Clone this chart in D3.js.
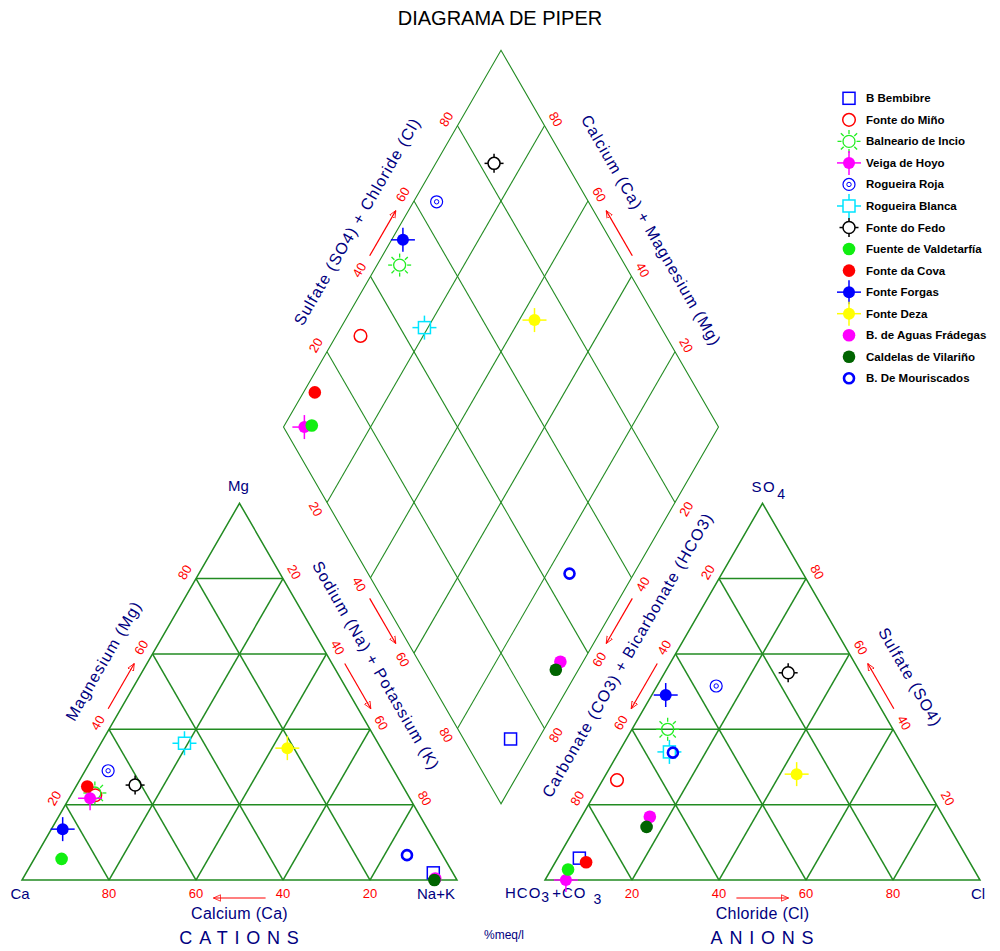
<!DOCTYPE html>
<html>
<head>
<meta charset="utf-8">
<script src="https://cdn.jsdelivr.net/npm/d3@7"></script>
<style>
  body { margin: 0; background: #fff; }
  svg { display: block; }
  text { font-family: "Liberation Sans", Arial, sans-serif; }
</style>
</head>
<body>
<svg id="chart" width="1000" height="951"></svg>
<script>
// ---- Sample names (legend order) ----
const samples = [
  "B Bembibre", "Fonte do Miño", "Balneario de Incio", "Veiga de Hoyo",
  "Rogueira Roja", "Rogueira Blanca", "Fonte do Fedo", "Fuente de Valdetarfía",
  "Fonte da Cova", "Fonte Forgas", "Fonte Deza", "B. de Aguas Frádegas",
  "Caldelas de Vilariño", "B. De Mouriscados"
];

// ---- Cations, % meq/l ----
const calcium   = [4.5, 71.9, 71.7, 73.5, 65.7, 44.5, 61.4, 88.1, 72.6, 83.9, 21.5, 4.8, 5.2, 8.2];
const magnesium = [1.9, 22.5, 23.1, 21.7, 29.0, 36.3, 25.2, 5.6, 24.8, 13.5, 35.0, 0.4, 0.0, 6.6];
const sodiumPotassium = [93.6, 5.6, 5.2, 4.8, 5.3, 19.2, 13.4, 6.3, 2.6, 2.6, 43.5, 94.8, 94.8, 85.2];

// ---- Anions, % meq/l ----
const bicarbonate = [89.2, 70.2, 51.8, 95.2, 34.9, 54.4, 16.6, 93.3, 88.2, 47.7, 28.1, 67.5, 69.6, 53.7];
const sulfate     = [5.8, 26.5, 40.0, 0.0, 51.5, 34.0, 55.0, 2.8, 4.7, 49.1, 28.1, 16.8, 14.1, 33.8];
const chloride    = [5.0, 3.3, 8.2, 4.8, 13.6, 11.6, 28.4, 3.9, 7.1, 3.2, 43.8, 15.7, 16.3, 12.5];

// ---- Symbols ----
const symbolTypes = ["square", "circle", "sun", "crossDisc", "dotCircle", "crossSquare", "tickCircle",
                     "disc", "disc", "crossDisc", "crossDisc", "disc", "disc", "ring"];
const symbolColors = ["#0000ff", "#ff0000", "#22ee22", "#ff00ff", "#0000ff", "#00e5ff", "#000000",
                      "#11ee11", "#ff0000", "#0000ff", "#ffff00", "#ff00ff", "#006400", "#0000ff"];

const tickValues = [20, 40, 60, 80];

// ---- Geometry ----
const svg = d3.select("#chart");
const SIDE = 435, SIN = Math.sqrt(3) / 2;
const baseY = 880, catX0 = 22, anX0 = 545;
const GRID = "#228b22", NAVY = "#000080", RED = "#ff0000";
const pct = d3.scaleLinear().domain([0, 100]).range([0, SIDE]);

const bX = (catX0 + SIDE + anX0) / 2;
const bY = baseY - (anX0 - catX0 - SIDE) * SIN;

// right-corner component, top-corner component
const catPos = (nak, mg) => [catX0 + pct(nak) + pct(mg) / 2, baseY - pct(mg) * SIN];
const anPos = (cl, so4) => [anX0 + pct(cl) + pct(so4) / 2, baseY - pct(so4) * SIN];
// a = Ca+Mg, b = SO4+Cl
const diaPos = (a, b) => [bX + (pct(b) - pct(a)) / 2, bY - (pct(a) + pct(b)) * SIN];

const line = d3.line();
const gridG = svg.append("g");

function triangleGrid(pos) {
  tickValues.forEach(k => {
    [[pos(0, k), pos(100 - k, k)],
     [pos(k, 0), pos(k, 100 - k)],
     [pos(100 - k, 0), pos(0, 100 - k)]].forEach(seg =>
      gridG.append("path").attr("d", line(seg)).attr("fill", "none")
        .attr("stroke", GRID).attr("stroke-width", 1.5));
  });
  gridG.append("path").attr("d", line([pos(0, 0), pos(100, 0), pos(0, 100)]) + "Z")
    .attr("fill", "none").attr("stroke", GRID).attr("stroke-width", 1.5);
}
triangleGrid(catPos);
triangleGrid(anPos);

tickValues.forEach(k => {
  [[diaPos(k, 0), diaPos(k, 100)], [diaPos(0, k), diaPos(100, k)]].forEach(seg =>
    gridG.append("path").attr("d", line(seg)).attr("fill", "none")
      .attr("stroke", GRID).attr("stroke-width", 1.1));
});
gridG.append("path")
  .attr("d", line([diaPos(0, 0), diaPos(100, 0), diaPos(100, 100), diaPos(0, 100)]) + "Z")
  .attr("fill", "none").attr("stroke", GRID).attr("stroke-width", 1.1);

// ---- Arrowhead ----
svg.append("defs").append("marker")
  .attr("id", "head").attr("viewBox", "0 0 10 10").attr("refX", 9).attr("refY", 5)
  .attr("markerWidth", 8).attr("markerHeight", 8).attr("markerUnits", "userSpaceOnUse")
  .attr("orient", "auto")
  .append("path").attr("d", "M0,1 L9,5 L0,9 Z").attr("fill", "none").attr("stroke", RED).attr("stroke-width", 1);

// ---- Edge axes: ticks, arrows, titles ----
const edges = [
  { from: catPos(0, 0), to: catPos(0, 100), n: [-SIN, -0.5], rot: -60, title: "Magnesium (Mg)", tt: 0.53, td: 39 },
  { from: catPos(0, 100), to: catPos(100, 0), n: [SIN, -0.5], rot: 60, title: "Sodium (Na) + Potassium (K)", tt: 0.48, td: 37 },
  { from: catPos(100, 0), to: catPos(0, 0), n: [0, 1], rot: 0, title: "Calcium (Ca)", tt: 0.5, td: 33, base: true },
  { from: anPos(0, 100), to: anPos(0, 0), n: [-SIN, -0.5], rot: -60, title: "Carbonate (CO3) + Bicarbonate (HCO3)", tt: 0.457, td: 41 },
  { from: anPos(100, 0), to: anPos(0, 100), n: [SIN, -0.5], rot: 60, title: "Sulfate (SO4)", tt: 0.484, td: 41 },
  { from: anPos(0, 0), to: anPos(100, 0), n: [0, 1], rot: 0, title: "Chloride (Cl)", tt: 0.5, td: 33, base: true },
  { from: diaPos(100, 0), to: diaPos(100, 100), n: [-SIN, -0.5], rot: -60, title: "Sulfate (SO4) + Chloride (Cl)", tt: 0.494, td: 39 },
  { from: diaPos(0, 100), to: diaPos(100, 100), n: [SIN, -0.5], rot: 60, title: "Calcium (Ca) + Magnesium (Mg)", tt: 0.469, td: 40 },
  { from: diaPos(100, 0), to: diaPos(0, 0), n: [-SIN, 0.5], rot: 60 },
  { from: diaPos(0, 100), to: diaPos(0, 0), n: [SIN, 0.5], rot: -60 }
];

const axisG = svg.append("g");
function along(e, t, d) {
  return [e.from[0] + (e.to[0] - e.from[0]) * t + e.n[0] * d,
          e.from[1] + (e.to[1] - e.from[1]) * t + e.n[1] * d];
}
edges.forEach(e => {
  tickValues.forEach(v => {
    const p = along(e, v / 100, 13);
    axisG.append("text").attr("transform", `translate(${p[0]},${p[1]}) rotate(${e.rot})`)
      .attr("text-anchor", "middle").attr("dominant-baseline", "central")
      .attr("font-size", 13).attr("fill", RED).text(v);
  });
  const ad = e.base ? 18 : 11;
  const p0 = along(e, 0.44, ad), p1 = along(e, 0.56, ad);
  axisG.append("path").attr("d", line([p0, p1])).attr("stroke", RED).attr("stroke-width", 1.2)
    .attr("fill", "none").attr("marker-end", "url(#head)");
  if (e.title) {
    const pt = along(e, e.tt, e.td);
    axisG.append("text").attr("transform", `translate(${pt[0]},${pt[1]}) rotate(${e.rot})`)
      .attr("text-anchor", "middle").attr("dominant-baseline", "central")
      .attr("font-size", 16).attr("letter-spacing", e.base ? 0.3 : 1.1)
      .attr("fill", NAVY).text(e.title);
  }
});

// ---- Corner and panel labels ----
const labelG = svg.append("g").attr("fill", NAVY);
const cCa = catPos(0, 0), cNa = catPos(100, 0), cMg = catPos(0, 100);
const aH = anPos(0, 0), aCl = anPos(100, 0), aS = anPos(0, 100);
labelG.append("text").attr("x", cCa[0] - 2).attr("y", cCa[1] + 13).attr("text-anchor", "middle")
  .attr("dominant-baseline", "central").attr("font-size", 15).text("Ca");
labelG.append("text").attr("x", cNa[0] - 21).attr("y", cNa[1] + 13).attr("text-anchor", "middle")
  .attr("dominant-baseline", "central").attr("font-size", 15).text("Na+K");
labelG.append("text").attr("x", cMg[0] - 1).attr("y", cMg[1] - 12).attr("text-anchor", "middle")
  .attr("font-size", 15).text("Mg");
labelG.append("text").attr("x", aCl[0] - 2).attr("y", aCl[1] + 13).attr("text-anchor", "middle")
  .attr("dominant-baseline", "central").attr("font-size", 15).text("Cl");

const so4Label = labelG.append("text").attr("x", aS[0] - 11).attr("y", aS[1] - 11).attr("font-size", 15);
so4Label.append("tspan").attr("letter-spacing", 1.5).text("SO");
so4Label.append("tspan").attr("dx", 1).attr("dy", 7).attr("font-size", 14).text("4");

const hcoLabel = labelG.append("text").attr("x", aH[0] - 40).attr("y", aH[1] + 18).attr("font-size", 15);
hcoLabel.append("tspan").attr("letter-spacing", 1).text("HCO");
hcoLabel.append("tspan").attr("dy", 4).attr("font-size", 14).text("3");
hcoLabel.append("tspan").attr("dx", 3).attr("dy", -4).attr("letter-spacing", 1).text("+CO");
hcoLabel.append("tspan").attr("dx", 7).attr("dy", 6).attr("font-size", 14).text("3");

labelG.append("text").attr("x", (cCa[0] + cNa[0]) / 2 + 3).attr("y", baseY + 58)
  .attr("text-anchor", "middle").attr("dominant-baseline", "central")
  .attr("font-size", 18).attr("letter-spacing", 6.8).text("CATIONS");
labelG.append("text").attr("x", (aH[0] + aCl[0]) / 2 + 3).attr("y", baseY + 58)
  .attr("text-anchor", "middle").attr("dominant-baseline", "central")
  .attr("font-size", 18).attr("letter-spacing", 6.8).text("ANIONS");
labelG.append("text").attr("x", bX + 3).attr("y", baseY + 55).attr("text-anchor", "middle")
  .attr("dominant-baseline", "central").attr("font-size", 12).text("%meq/l");

svg.append("text").attr("x", 500).attr("y", 25).attr("text-anchor", "middle")
  .attr("font-size", 20).attr("fill", "#000").text("DIAGRAMA DE PIPER");

// ---- Symbols ----
function drawSymbol(g, type, color) {
  const seg = (x1, y1, x2, y2, w) => g.append("line").attr("x1", x1).attr("y1", y1)
    .attr("x2", x2).attr("y2", y2).attr("stroke", color).attr("stroke-width", w);
  switch (type) {
    case "square":
      g.append("rect").attr("x", -6).attr("y", -6).attr("width", 12).attr("height", 12)
        .attr("fill", "none").attr("stroke", color).attr("stroke-width", 1.5);
      break;
    case "circle":
      g.append("circle").attr("r", 6.3).attr("fill", "none").attr("stroke", color).attr("stroke-width", 1.5);
      break;
    case "sun":
      g.append("circle").attr("r", 6).attr("fill", "none").attr("stroke", color).attr("stroke-width", 1.3);
      d3.range(8).forEach(i => {
        const a = i * Math.PI / 4;
        seg(7.5 * Math.cos(a), 7.5 * Math.sin(a), 11.5 * Math.cos(a), 11.5 * Math.sin(a), 1.3);
      });
      break;
    case "crossDisc":
      seg(-12, 0, 12, 0, 1.5); seg(0, -12, 0, 12, 1.5);
      g.append("circle").attr("r", 6).attr("fill", color);
      break;
    case "dotCircle":
      g.append("circle").attr("r", 6).attr("fill", "none").attr("stroke", color).attr("stroke-width", 1.2);
      g.append("circle").attr("r", 2.2).attr("fill", "none").attr("stroke", color).attr("stroke-width", 1);
      break;
    case "crossSquare":
      g.append("rect").attr("x", -6).attr("y", -6).attr("width", 12).attr("height", 12)
        .attr("fill", "none").attr("stroke", color).attr("stroke-width", 1.5);
      seg(-12, 0, -6, 0, 1.5); seg(6, 0, 12, 0, 1.5); seg(0, -12, 0, -6, 1.5); seg(0, 6, 0, 12, 1.5);
      break;
    case "tickCircle":
      g.append("circle").attr("r", 6).attr("fill", "none").attr("stroke", color).attr("stroke-width", 1.5);
      seg(-9.5, 0, -6, 0, 1.5); seg(6, 0, 9.5, 0, 1.5); seg(0, -9.5, 0, -6, 1.5); seg(0, 6, 0, 9.5, 1.5);
      break;
    case "disc":
      g.append("circle").attr("r", 6.3).attr("fill", color);
      break;
    case "ring":
      g.append("circle").attr("r", 5).attr("fill", "none").attr("stroke", color).attr("stroke-width", 2.6);
      break;
  }
}

// ---- Plot samples in the three fields ----
const pointG = svg.append("g");
samples.forEach((name, i) => {
  const pts = [
    catPos(sodiumPotassium[i], magnesium[i]),
    anPos(chloride[i], sulfate[i]),
    diaPos(calcium[i] + magnesium[i], sulfate[i] + chloride[i])
  ];
  pts.forEach(p => {
    const g = pointG.append("g").attr("transform", `translate(${p[0]},${p[1]})`);
    drawSymbol(g, symbolTypes[i], symbolColors[i]);
  });
});

// ---- Legend ----
const legendY = d3.scaleLinear().domain([0, samples.length - 1]).range([98.3, 378.3]);
const legend = svg.append("g");
samples.forEach((name, i) => {
  const g = legend.append("g").attr("transform", `translate(849,${legendY(i)})`);
  drawSymbol(g, symbolTypes[i], symbolColors[i]);
  legend.append("text").attr("x", 866).attr("y", legendY(i)).attr("dominant-baseline", "central")
    .attr("font-size", 11.5).attr("font-weight", "bold").attr("fill", "#000").text(name);
});
</script>
</body>
</html>
